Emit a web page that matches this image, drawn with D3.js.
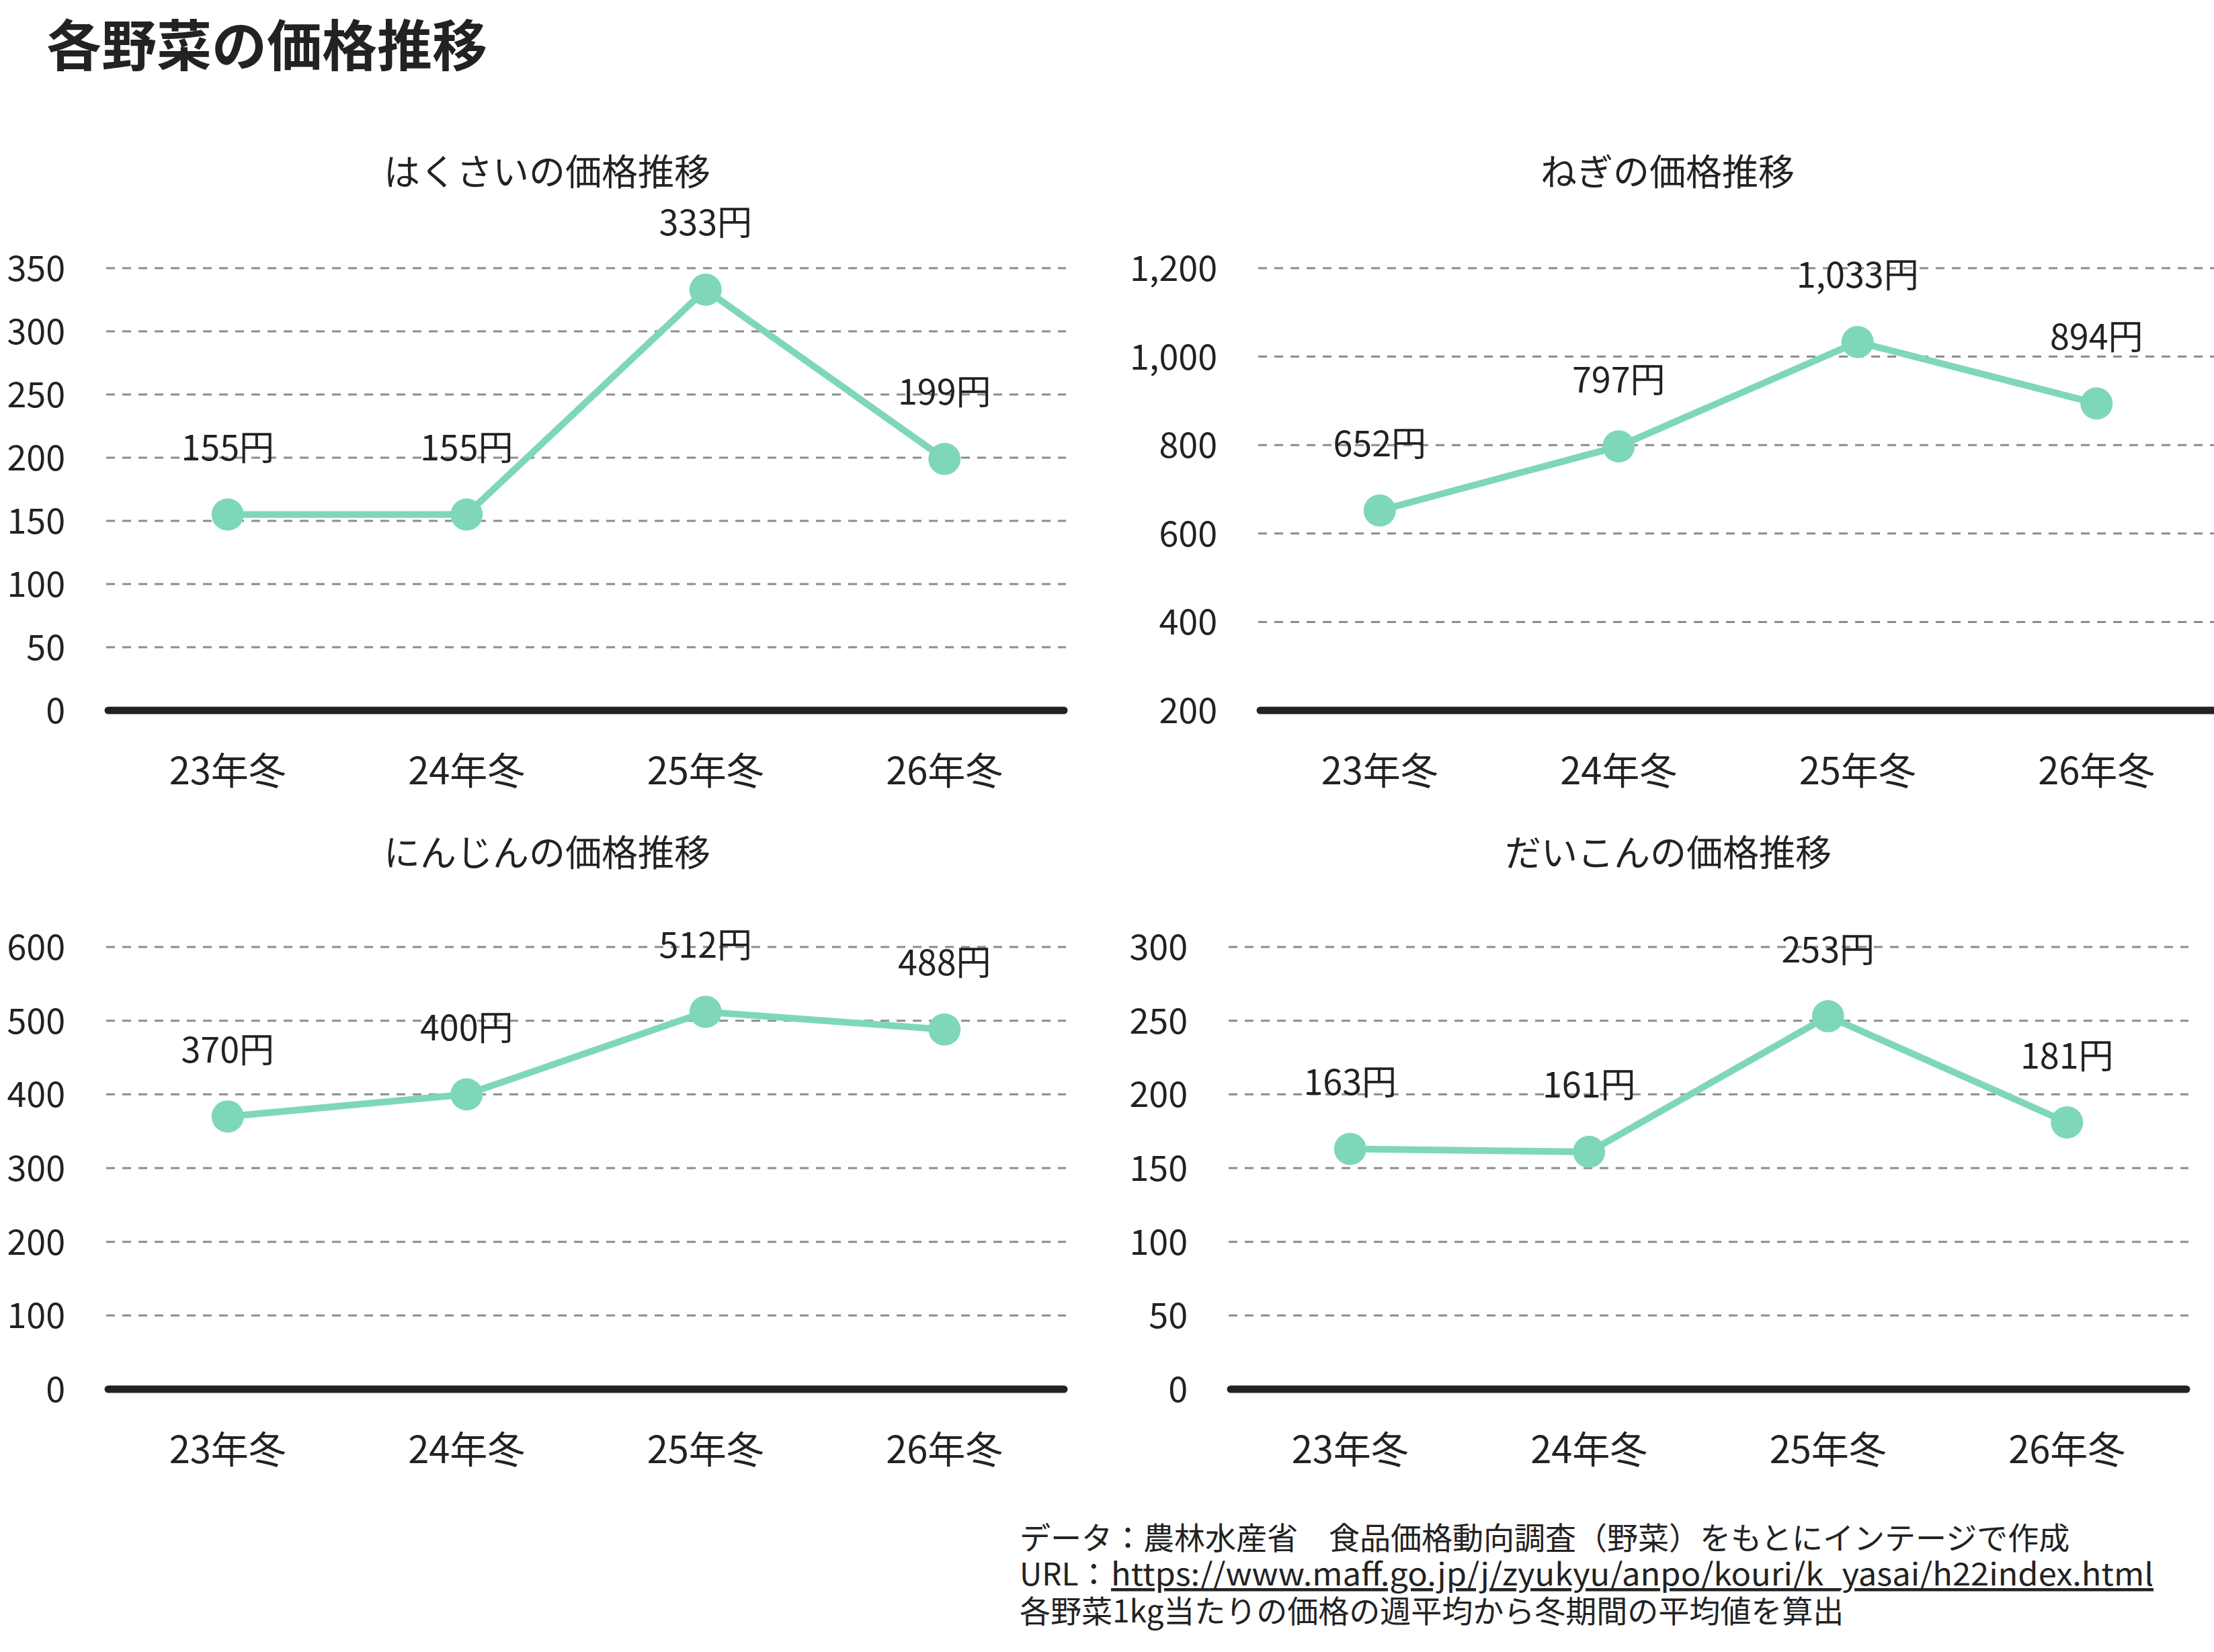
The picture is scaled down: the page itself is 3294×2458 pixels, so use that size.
<!DOCTYPE html>
<html>
<head>
<meta charset="utf-8">
<script src="https://cdn.jsdelivr.net/npm/d3@7"></script>
<style>
  html, body { margin: 0; padding: 0; background: #fff; }
  svg text { font-family: "Noto Sans CJK JP", "Noto Sans", sans-serif; fill: #222; }
</style>
</head>
<body>
<svg id="chart" width="3294" height="2458"></svg>
<script>
// ---- data ----
const categories = ["23年冬", "24年冬", "25年冬", "26年冬"];
const hakusaiValues = [155, 155, 333, 199];
const negiValues = [652, 797, 1033, 894];
const ninjinValues = [370, 400, 512, 488];
const daikonValues = [163, 161, 253, 181];

const hakusaiTicks = [0, 50, 100, 150, 200, 250, 300, 350];
const negiTicks = [200, 400, 600, 800, 1000, 1200];
const ninjinTicks = [0, 100, 200, 300, 400, 500, 600];
const daikonTicks = [0, 50, 100, 150, 200, 250, 300];

const titles = ["はくさいの価格推移", "ねぎの価格推移", "にんじんの価格推移", "だいこんの価格推移"];
const mainTitle = "各野菜の価格推移";
const footerLines = [
  "データ：農林水産省　食品価格動向調査（野菜）をもとにインテージで作成",
  "URL：",
  "各野菜1kg当たりの価格の週平均から冬期間の平均値を算出"
];
const footerUrl = "https://www.maff.go.jp/j/zyukyu/anpo/kouri/k_yasai/h22index.html";

// ---- layout ----
const panels = [
  { title: titles[0], values: hakusaiValues, ticks: hakusaiTicks, left: 161, top: 399, bottom: 1057, titleX: 814, titleY: 252 },
  { title: titles[1], values: negiValues,    ticks: negiTicks,    left: 1875, top: 399, bottom: 1057, titleX: 2481, titleY: 252 },
  { title: titles[2], values: ninjinValues,  ticks: ninjinTicks,  left: 161, top: 1409, bottom: 2067, titleX: 814, titleY: 1265 },
  { title: titles[3], values: daikonValues,  ticks: daikonTicks,  left: 1831, top: 1409, bottom: 2067, titleX: 2482, titleY: 1265 }
];
const plotWidth = 1422;
const lineColor = "#7fd7ba";
const fmt = d3.format(",");

const svg = d3.select("#chart");

svg.append("text")
  .attr("x", 69).attr("y", 62)
  .attr("dominant-baseline", "central")
  .attr("font-size", 82).attr("font-weight", 700)
  .text(mainTitle);

panels.forEach(p => {
  const g = svg.append("g");
  const x = d3.scaleBand().domain(categories).range([p.left, p.left + plotWidth]).padding(0);
  const y = d3.scaleLinear().domain([p.ticks[0], p.ticks[p.ticks.length - 1]]).range([p.bottom, p.top]);

  // subtitle
  g.append("text")
    .attr("x", p.titleX).attr("y", p.titleY)
    .attr("text-anchor", "middle").attr("dominant-baseline", "central")
    .attr("font-size", 54)
    .text(p.title);

  // gridlines
  g.append("g").selectAll("line")
    .data(p.ticks.slice(1))
    .join("line")
    .attr("x1", p.left - 3).attr("x2", p.left + plotWidth + 3)
    .attr("y1", d => y(d)).attr("y2", d => y(d))
    .attr("stroke", "#8c8c8c").attr("stroke-width", 3)
    .attr("stroke-dasharray", "13,11");

  // y axis labels
  const yAxis = g.append("g")
    .attr("transform", `translate(${p.left},-4)`)
    .call(d3.axisLeft(y).tickValues(p.ticks).tickSize(0).tickPadding(64).tickFormat(fmt));
  yAxis.select(".domain").remove();
  yAxis.selectAll("text")
    .attr("font-size", 52).attr("fill", "#222")
    .attr("font-family", "Noto Sans CJK JP")
    .attr("dy", null).attr("dominant-baseline", "central");

  // baseline
  g.append("line")
    .attr("x1", p.left).attr("x2", p.left + plotWidth)
    .attr("y1", y(p.ticks[0])).attr("y2", y(p.ticks[0]))
    .attr("stroke", "#222").attr("stroke-width", 11)
    .attr("stroke-linecap", "round");

  // x axis labels
  const xAxis = g.append("g")
    .attr("transform", `translate(0,${p.bottom})`)
    .call(d3.axisBottom(x).tickSize(0).tickPadding(85));
  xAxis.select(".domain").remove();
  xAxis.selectAll("text")
    .attr("font-size", 56).attr("fill", "#222")
    .attr("font-family", "Noto Sans CJK JP")
    .attr("dy", null).attr("dominant-baseline", "central");

  const pts = categories.map((c, i) => ({ c, v: p.values[i] }));
  const cx = d => x(d.c) + x.bandwidth() / 2;

  // line
  g.append("path")
    .datum(pts)
    .attr("fill", "none")
    .attr("stroke", lineColor).attr("stroke-width", 10)
    .attr("d", d3.line().x(cx).y(d => y(d.v)));

  // points
  g.append("g").selectAll("circle")
    .data(pts)
    .join("circle")
    .attr("cx", cx).attr("cy", d => y(d.v))
    .attr("r", 24).attr("fill", lineColor);

  // data labels
  g.append("g").selectAll("text")
    .data(pts)
    .join("text")
    .attr("x", cx).attr("y", d => y(d.v) - 103)
    .attr("text-anchor", "middle").attr("dominant-baseline", "central")
    .attr("font-size", 52)
    .text(d => fmt(d.v) + "円");
});

// footer
const fx = 1517;
const fy = [2285, 2339, 2394];
svg.append("text").attr("x", fx).attr("y", fy[0]).attr("dominant-baseline", "central")
  .attr("font-size", 46).text(footerLines[0]);
svg.append("text").attr("x", fx).attr("y", fy[1]).attr("dominant-baseline", "central")
  .attr("font-size", 46).text(footerLines[1]);
svg.append("text").attr("x", 1653).attr("y", fy[1]).attr("dominant-baseline", "central")
  .attr("font-size", 46)
  .attr("text-decoration", "underline")
  .attr("textLength", 1551).attr("lengthAdjust", "spacingAndGlyphs")
  .text(footerUrl);
svg.append("text").attr("x", fx).attr("y", fy[2]).attr("dominant-baseline", "central")
  .attr("font-size", 46).text(footerLines[2]);
</script>
</body>
</html>
